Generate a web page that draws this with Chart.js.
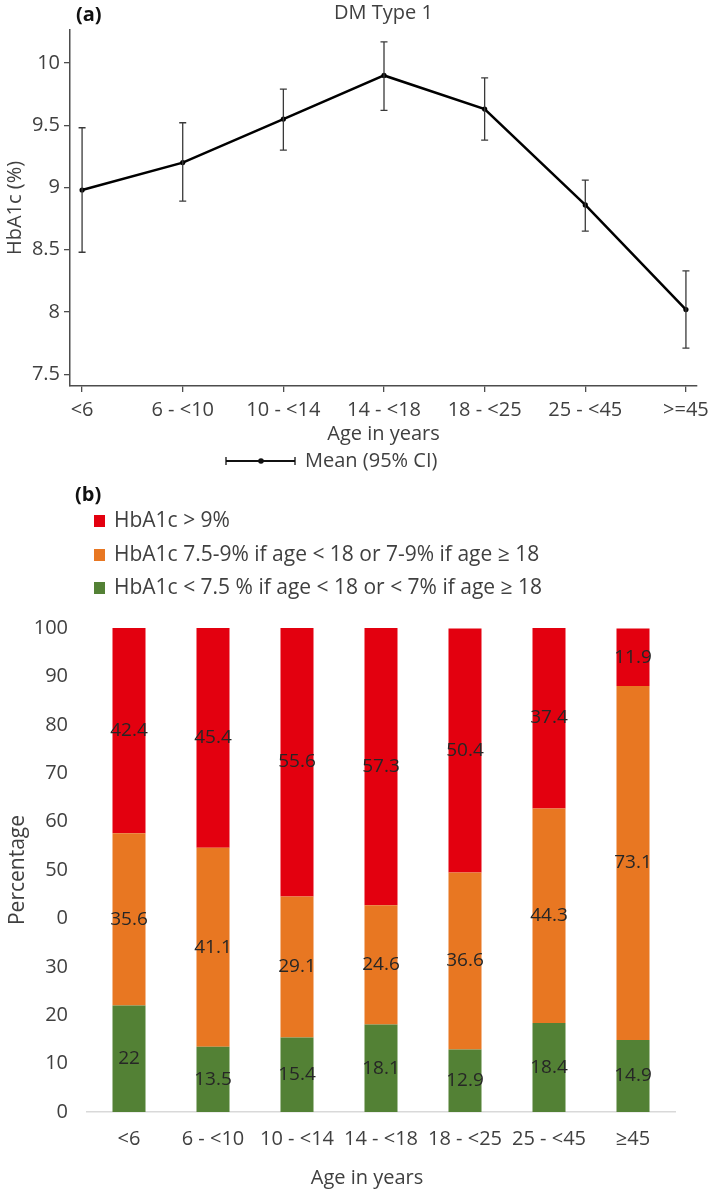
<!DOCTYPE html>
<html>
<head>
<meta charset="utf-8">
<script src="https://cdn.jsdelivr.net/npm/chart.js@4/dist/chart.umd.min.js"></script>
<style>
  body { margin: 0; background: #fff; }
  canvas { display: block; }
</style>
</head>
<body>
<canvas id="chart-a" width="709" height="480"></canvas>
<canvas id="chart-b" width="709" height="712"></canvas>
<script>
// (a) mean HbA1c with 95% CI by age group
const ageGroupsA = ['<6', '6 - <10', '10 - <14', '14 - <18', '18 - <25', '25 - <45', '>=45'];
const meanA = [8.98, 9.20, 9.55, 9.90, 9.63, 8.86, 8.02];
const lowerA = [8.48, 8.89, 9.30, 9.62, 9.38, 8.65, 7.71];
const upperA = [9.48, 9.52, 9.79, 10.17, 9.88, 9.06, 8.33];
const yTicksA = [7.5, 8, 8.5, 9, 9.5, 10];

// (b) HbA1c category share by age group
const ageGroupsB = ['<6', '6 - <10', '10 - <14', '14 - <18', '18 - <25', '25 - <45', '≥45'];
const lowShare = [22, 13.5, 15.4, 18.1, 12.9, 18.4, 14.9];
const midShare = [35.6, 41.1, 29.1, 24.6, 36.6, 44.3, 73.1];
const highShare = [42.4, 45.4, 55.6, 57.3, 50.4, 37.4, 11.9];
const yTicksB = [0, 10, 20, 30, 40, 50, 60, 70, 80, 90, 100];
const yTickLabelsB = ['0', '10', '20', '30', '0', '50', '60', '70', '80', '90', '100'];
const legendB = ['HbA1c > 9%', 'HbA1c 7.5-9% if age < 18 or 7-9% if age ≥ 18', 'HbA1c < 7.5 % if age < 18 or < 7% if age ≥ 18'];

const FONT = "'Open Sans', 'Noto Sans', sans-serif";
const RED = '#e3000f', ORANGE = '#e87722', GREEN = '#538135';
const AXIS = '#4d4d4d';

Chart.defaults.font.family = FONT;
Chart.defaults.color = '#404040';
Chart.defaults.animation = false;

// error bars + labels for chart (a)
const errorBarsPlugin = {
  id: 'errorBars',
  afterDatasetsDraw(chart) {
    const { ctx, scales: { x, y } } = chart;
    ctx.save();
    ctx.strokeStyle = '#3a3a3a';
    ctx.lineWidth = 1.3;
    for (let i = 0; i < meanA.length; i++) {
      const px = x.getPixelForValue(i);
      const top = y.getPixelForValue(upperA[i]);
      const bot = y.getPixelForValue(lowerA[i]);
      ctx.beginPath();
      ctx.moveTo(px, top); ctx.lineTo(px, bot);
      ctx.moveTo(px - 3.5, top); ctx.lineTo(px + 3.5, top);
      ctx.moveTo(px - 3.5, bot); ctx.lineTo(px + 3.5, bot);
      ctx.stroke();
    }
    ctx.restore();
  },
  afterDraw(chart) {
    const { ctx, chartArea } = chart;
    ctx.save();
    ctx.fillStyle = '#111';
    ctx.font = 'bold 20px ' + FONT;
    ctx.textBaseline = 'middle';
    ctx.textAlign = 'left';
    ctx.fillText('(a)', 76, 15);
    ctx.fillStyle = '#404040';
    ctx.font = '20px ' + FONT;
    ctx.textAlign = 'center';
    ctx.fillText('DM Type 1', (chartArea.left + chartArea.right) / 2, 13);
    // legend: mean with CI
    const ly = 461;
    ctx.strokeStyle = '#111';
    ctx.lineWidth = 2;
    ctx.beginPath();
    ctx.moveTo(226, ly); ctx.lineTo(295, ly);
    ctx.stroke();
    ctx.lineWidth = 1.3;
    ctx.beginPath();
    ctx.moveTo(226, ly - 4); ctx.lineTo(226, ly + 4);
    ctx.moveTo(295, ly - 4); ctx.lineTo(295, ly + 4);
    ctx.stroke();
    ctx.fillStyle = '#111';
    ctx.beginPath();
    ctx.arc(261, ly, 2.8, 0, Math.PI * 2);
    ctx.fill();
    ctx.fillStyle = '#404040';
    ctx.textAlign = 'left';
    ctx.fillText('Mean (95% CI)', 305, ly);
    ctx.restore();
  }
};

new Chart(document.getElementById('chart-a'), {
  type: 'line',
  data: {
    datasets: [{
      data: meanA.map((v, i) => ({ x: i, y: v })),
      borderColor: '#000',
      borderWidth: 2.5,
      backgroundColor: '#000',
      pointRadius: 2.6,
      pointBorderWidth: 0,
      tension: 0
    }]
  },
  options: {
    responsive: false,
    devicePixelRatio: 1,
    layout: { padding: { top: 30, right: 12, left: 0, bottom: 34 } },
    plugins: { legend: { display: false }, tooltip: { enabled: false } },
    scales: {
      x: {
        type: 'linear',
        min: -0.12,
        max: 6.11,
        afterBuildTicks: s => { s.ticks = ageGroupsA.map((_, i) => ({ value: i })); },
        afterFit: s => { s.height = 60; s.paddingLeft = 0; s.paddingRight = 0; },
        ticks: {
          callback: v => ageGroupsA[v],
          font: { size: 20 },
          padding: 6,
          maxRotation: 0,
          autoSkip: false
        },
        grid: { drawOnChartArea: false, drawTicks: true, tickLength: 6, color: AXIS, lineWidth: 1.3 },
        border: { color: AXIS, width: 1.5 },
        title: { display: true, text: 'Age in years', font: { size: 20 }, padding: { top: 0, bottom: 0 } }
      },
      y: {
        min: 7.406,
        max: 10.265,
        afterBuildTicks: s => { s.ticks = yTicksA.map(v => ({ value: v })); },
        afterFit: s => { s.width = 70; s.paddingTop = 0; s.paddingBottom = 0; },
        ticks: { font: { size: 20 }, padding: 4, callback: v => String(v) },
        grid: { drawOnChartArea: false, drawTicks: true, tickLength: 6, color: AXIS, lineWidth: 1.3 },
        border: { color: AXIS, width: 1.5 },
        title: { display: true, text: 'HbA1c (%)', font: { size: 20 }, padding: { top: 3, bottom: 0 } }
      }
    }
  },
  plugins: [errorBarsPlugin]
});

// value labels + custom legend for chart (b)
const stackLabelsPlugin = {
  id: 'stackLabels',
  afterDatasetsDraw(chart) {
    const { ctx } = chart;
    ctx.save();
    ctx.fillStyle = '#262626';
    ctx.font = '19px ' + FONT;
    ctx.textAlign = 'center';
    ctx.textBaseline = 'middle';
    chart.data.datasets.forEach((ds, di) => {
      chart.getDatasetMeta(di).data.forEach((bar, i) => {
        ctx.fillText(String(ds.data[i]), bar.x, (bar.y + bar.base) / 2);
      });
    });
    ctx.restore();
  },
  afterDraw(chart) {
    const { ctx } = chart;
    ctx.save();
    ctx.fillStyle = '#111';
    ctx.font = 'bold 20px ' + FONT;
    ctx.textBaseline = 'middle';
    ctx.textAlign = 'left';
    ctx.fillText('(b)', 75, 15);
    const colors = [RED, ORANGE, GREEN];
    const rows = [41, 75, 108];
    ctx.font = '21px ' + FONT;
    legendB.forEach((txt, i) => {
      ctx.fillStyle = colors[i];
      ctx.fillRect(94, rows[i] - 6, 11, 12);
      ctx.fillStyle = '#404040';
      ctx.fillText(txt, 114, rows[i]);
    });
    // x axis title sits a little left of the plot centre in the original
    ctx.font = '20px ' + FONT;
    ctx.textAlign = 'center';
    ctx.fillText('Age in years', 367, 698);
    ctx.restore();
  }
};

new Chart(document.getElementById('chart-b'), {
  type: 'bar',
  data: {
    labels: ageGroupsB,
    datasets: [
      { label: legendB[2], data: lowShare, backgroundColor: GREEN },
      { label: legendB[1], data: midShare, backgroundColor: ORANGE },
      { label: legendB[0], data: highShare, backgroundColor: RED }
    ]
  },
  options: {
    responsive: false,
    devicePixelRatio: 1,
    layout: { padding: { top: 148, right: 34, left: 0, bottom: 0 } },
    datasets: { bar: { categoryPercentage: 1, barPercentage: 0.393, borderWidth: 0 } },
    plugins: { legend: { display: false }, tooltip: { enabled: false } },
    scales: {
      x: {
        stacked: true,
        afterFit: s => { s.height = 80; s.paddingLeft = 0; s.paddingRight = 0; },
        ticks: { font: { size: 20 }, padding: 15, maxRotation: 0, autoSkip: false },
        grid: { display: false, drawTicks: false },
        border: { display: true, color: '#d9d9d9', width: 1.5 },
        title: { display: false }
      },
      y: {
        stacked: true,
        min: 0,
        max: 100,
        afterBuildTicks: s => { s.ticks = yTicksB.map(v => ({ value: v })); },
        afterFit: s => { s.width = 87; s.paddingTop = 0; s.paddingBottom = 0; },
        ticks: { font: { size: 20 }, padding: 19, callback: v => yTickLabelsB[yTicksB.indexOf(v)] },
        grid: { display: false, drawTicks: false },
        border: { display: false },
        title: { display: true, text: 'Percentage', font: { size: 21 }, padding: { top: 5, bottom: 0 } }
      }
    }
  },
  plugins: [stackLabelsPlugin]
});
</script>
</body>
</html>
